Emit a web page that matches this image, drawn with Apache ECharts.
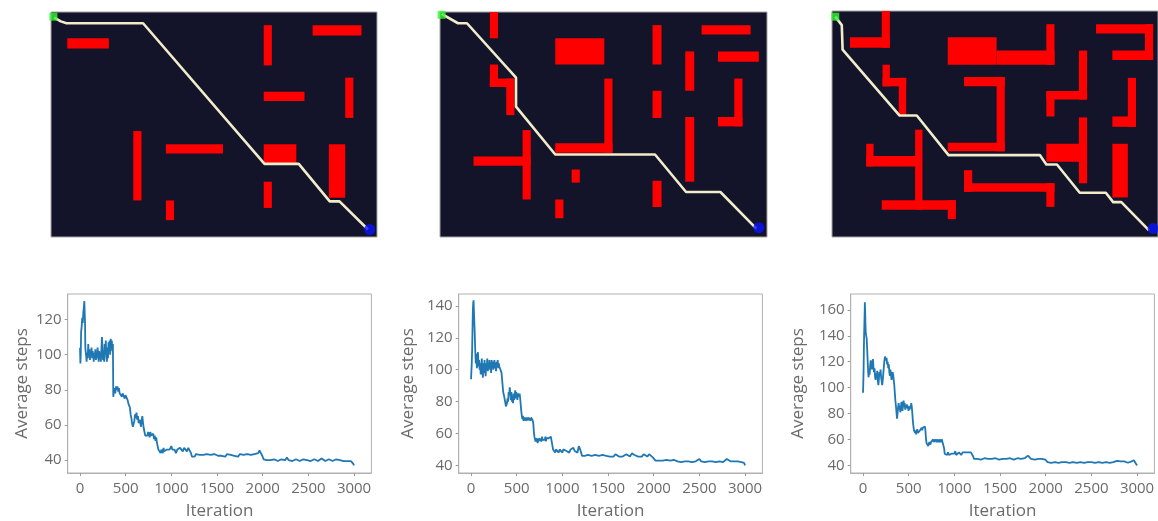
<!DOCTYPE html>
<html>
<head>
<meta charset="utf-8">
<script src="https://cdn.jsdelivr.net/npm/echarts@6/dist/echarts.min.js"></script>
<style>
html,body{margin:0;padding:0;background:#fff;}
#c{width:1158px;height:521px;}
</style>
</head>
<body>
<div id="c"></div>
<script>
// ---------- maze maps (grid units: 40 columns x 24 rows, y downward) ----------
const walls1 = [
  [2.0,2.8,7.1,3.9],[26.1,1.4,27.1,5.7],[32.1,1.4,38.1,2.5],[26.1,8.5,31.1,9.5],
  [36.1,7.0,37.1,11.3],[10.1,12.7,11.1,20.1],[14.1,14.1,21.1,15.1],[26.1,14.1,30.1,16.2],
  [34.1,14.1,36.1,19.8],[14.1,20.1,15.1,22.2],[26.1,18.1,27.1,20.9]
];
const path1 = [[0.4,0.6],[1.2,1.0],[1.9,1.2],[11.3,1.2],[26.2,16.2],[30.4,16.2],[34.2,20.2],[35.4,20.2],[38.9,23.2]];

const walls2 = [
  [6.1,0,7.1,2.8],[14.1,2.8,20.1,5.6],[26.0,1.4,27.1,5.6],[32.0,1.4,38.0,2.4],
  [30.0,4.2,31.1,8.4],[34.0,4.2,39.0,5.3],[36.0,7.1,37.0,12.2],[34.0,11.2,37.0,12.2],
  [6.1,5.6,7.1,8.0],[6.1,7.1,9.0,8.0],[8.1,7.1,9.1,11.0],[26.0,8.4,27.1,11.3],
  [20.1,7.1,21.1,15.0],[14.1,14.0,21.1,15.0],[10.1,12.6,11.1,20.0],[4.1,15.4,11.1,16.4],
  [16.1,16.8,17.1,18.2],[30.0,11.2,31.1,18.1],[26.0,18.0,27.1,20.8],[14.1,20.0,15.1,22.0]
];
const path2 = [[0.2,0.2],[2.2,1.2],[3.3,1.2],[9.3,7.0],[9.3,10.1],[14.1,15.2],[26.3,15.2],[30.1,19.2],[34.3,19.2],[38.7,23.1]];

const walls3 = [
  [6.1,0,7.1,3.9],[2.2,2.8,7.1,3.9],
  [14.2,2.8,20.2,5.7],[20.2,4.2,27.3,5.7],[26.3,1.4,27.3,5.7],
  [32.4,1.4,39.4,2.4],[38.4,1.4,39.4,5.2],[34.4,4.2,39.4,5.2],
  [6.2,5.7,7.1,8.0],[6.2,7.1,9.1,8.0],[8.2,7.1,9.1,11.0],
  [16.2,7.0,21.2,8.0],[20.2,7.0,21.2,14.9],[14.2,14.0,21.2,14.9],
  [30.3,4.2,31.3,9.4],[26.3,8.5,31.3,9.4],[26.3,8.5,27.3,11.2],
  [36.3,7.1,37.3,12.3],[34.4,11.2,37.3,12.3],
  [30.3,11.3,31.3,18.3],[26.3,14.1,31.3,16.0],
  [34.4,14.1,36.3,19.8],
  [4.2,14.1,5.1,16.5],[4.2,15.4,11.0,16.5],[10.2,12.6,11.1,21.1],[6.1,20.1,15.2,21.1],[14.2,20.1,15.2,22.1],
  [16.2,16.9,17.2,19.2],[16.2,18.3,27.3,19.2],[26.3,18.3,27.3,20.8]
];
const path3 = [[0.4,0.6],[1.2,1.5],[1.3,4.1],[8.3,11.1],[10.4,11.1],[14.3,15.3],[25.5,15.3],[26.3,16.3],[27.6,16.3],[30.4,19.3],[33.6,19.3],[34.5,20.3],[35.5,20.3],[38.9,23.3]];

const starts = [[0.3,0.5],[0.2,0.3],[0.4,0.6]];
const goals = [[39.1,23.2],[39.0,23.0],[39.4,23.1]];

// ---------- learning curves: [iteration, average steps] ----------
const run1 = [
[0,104],[4,95],[8,100],[12,113],[18,116],[24,121],[30,118],[36,124],[42,127],[47,130.5],[51,124],[55,118],[58,104],[63,101],[68,99],[72,96],[78,101],[84,98],[90,106],[96,99],[102,103],[108,97],[114,102],[120,100],[126,104],[132,98],[138,102],[144,100],[150,96],[156,101],[162,99],[168,103],[174,97],[180,101],[186,98],[192,104],[198,100],[204,96],[210,102],[216,98],[222,101],[228,96],[234,103],[240,110],[246,104],[252,97],[258,102],[264,96],[270,106],[276,100],[282,108],[288,99],[294,96],[300,104],[306,98],[312,107],[318,103],[324,108],[330,100],[336,109],[342,104],[348,108],[354,102],[360,106],[364,76],[370,79],[378,81],[386,78],[394,82],[402,80],[410,82],[418,79],[426,81],[434,78],[442,77],[450,79],[458,76],[466,78],[474,77],[482,79],[490,75],[498,77],[506,76],[514,78],[522,74],[530,72],[538,73],[546,70],[554,66],[562,64],[570,61],[578,59],[586,58],[594,62],[602,66],[610,64],[618,67],[626,63],[634,65],[642,61],[650,60],[658,63],[666,59],[674,62],[682,65],[690,61],[698,58],[706,56],[714,54],[722,53],[730,55],[738,54],[746,56],[754,55],[762,53],[770,56],[778,54],[786,55],[794,53],[802,55],[810,52],[818,54],[826,51],[834,53],[842,50],[850,48],[858,46],[866,45],[874,46],[882,44],[890,46],[898,45],[906,44],[914,47],[922,45],[930,46],[940,44],[950,46],[960,45],[970,47],[980,46],[990,45],[1000,48],[1010,46],[1020,45],[1035,46],[1050,44],[1065,46],[1080,45],[1095,47],[1110,46],[1125,45],[1140,47],[1155,46],[1170,45],[1185,47],[1200,46],[1215,44],[1225,42],[1240,43],[1255,42],[1270,43.5],[1290,42.5],[1310,43],[1330,42],[1350,43],[1370,42.5],[1390,43.5],[1410,42.5],[1430,43],[1450,42],[1470,43.5],[1490,43],[1510,42.5],[1530,43.5],[1550,42.5],[1570,43],[1590,42],[1610,43.5],[1630,42.5],[1650,43],[1670,44],[1690,42.5],[1710,43],[1730,42],[1750,43.5],[1770,42.5],[1790,43],[1810,42.5],[1830,43.5],[1850,42.5],[1870,43],[1890,42.5],[1910,43.5],[1930,43],[1950,44],[1965,45.5],[1980,44],[1995,42.5],[2010,40.5],[2025,39.5],[2045,40],[2065,39.5],[2085,40],[2105,39.5],[2125,40.5],[2145,40],[2165,39.5],[2185,40],[2205,40.5],[2225,39.5],[2245,40],[2265,41.5],[2285,40],[2305,40.5],[2325,39.5],[2345,40],[2365,40.5],[2385,40],[2405,39.5],[2425,40],[2445,40.5],[2465,39.5],[2485,40],[2505,40.5],[2525,39.5],[2545,40],[2565,40.5],[2585,40],[2605,39.5],[2625,40],[2645,41],[2665,40],[2685,39.5],[2705,40],[2725,40.5],[2745,40],[2765,39.5],[2785,40],[2805,40.5],[2825,39.5],[2845,40],[2865,40.5],[2885,39.5],[2905,40],[2925,39.5],[2945,40],[2965,39.5],[2980,39],[2990,38],[3000,37]
];
const run2 = [
[0,94],[4,93.5],[8,104],[12,112],[16,125],[20,137],[24,142],[28,143.5],[32,136],[36,130],[40,124],[46,112],[52,104],[58,110],[64,101],[70,108],[76,111],[82,102],[88,106],[94,100],[100,104],[106,97],[112,103],[118,107],[124,99],[130,95],[136,104],[142,98],[148,106],[154,100],[160,96],[166,104],[172,101],[178,107],[184,99],[190,104],[196,100],[202,106],[208,101],[214,104],[220,98],[226,106],[232,102],[238,105],[244,100],[250,103],[256,106],[262,101],[268,104],[274,99],[280,105],[286,102],[292,106],[298,101],[304,104],[310,102],[316,103],[322,101],[328,102],[334,98],[340,94],[346,90],[352,86],[358,87],[364,83],[370,81],[376,79],[382,77],[388,76],[394,79],[400,82],[406,80],[412,86],[418,84],[424,89],[430,85],[436,81],[442,86],[448,80],[454,83],[460,79],[466,85],[472,81],[478,84],[484,87],[490,82],[496,86],[502,84],[508,81],[514,85],[520,86],[526,83],[532,85],[538,82],[544,78],[550,74],[556,71],[562,69],[568,71],[574,68],[580,69],[586,67],[592,70],[598,68],[604,67],[610,69],[616,70],[622,68],[628,70],[634,69],[640,71],[646,70],[652,68],[658,70],[664,69],[670,71],[676,68],[682,66],[688,61],[694,58],[700,57],[706,55],[712,57],[718,56],[724,58],[730,54],[736,57],[742,55],[748,57],[754,56],[760,58],[766,57],[772,55],[778,58],[784,56],[790,57],[796,55],[802,57],[808,56],[814,58],[820,55],[826,57],[832,56],[838,58],[844,56],[850,57],[856,58],[862,56],[868,57],[874,58],[880,56],[886,55],[892,52],[898,50],[906,49],[914,51],[922,48],[930,50],[940,49],[950,51],[960,48],[970,50],[980,49],[990,51],[1000,48],[1010,50],[1020,49],[1030,51],[1045,49],[1060,50],[1075,48],[1090,50],[1105,49],[1120,51],[1135,49],[1150,50],[1165,48],[1180,52],[1195,50],[1205,48],[1215,46],[1230,47],[1245,46],[1260,45],[1280,46.5],[1300,45.5],[1320,46],[1340,45],[1360,46.5],[1380,45.5],[1400,46],[1420,45],[1440,46.5],[1460,45.5],[1480,46],[1500,47],[1520,45.5],[1540,46.5],[1560,45.5],[1580,47],[1600,46],[1620,45.5],[1640,46.5],[1660,45.5],[1680,46],[1700,47],[1720,46],[1740,45.5],[1760,47.5],[1775,48],[1790,46.5],[1810,47],[1830,45.5],[1850,46.5],[1870,45.5],[1890,47],[1910,46.5],[1930,45.5],[1950,47],[1970,46],[1990,45],[2005,44],[2020,43],[2040,42.5],[2060,43],[2080,42],[2100,43],[2120,42.5],[2140,43.5],[2160,42.5],[2180,43],[2200,42],[2220,43.5],[2240,43],[2260,42.5],[2280,43],[2300,42],[2320,43],[2340,42.5],[2360,43.5],[2380,42.5],[2400,43],[2420,42],[2440,43],[2460,42.5],[2480,43],[2500,44],[2520,42.5],[2540,43],[2560,42],[2580,43],[2600,42.5],[2620,43.5],[2640,42.5],[2660,43],[2680,42],[2700,43],[2720,42.5],[2740,43.5],[2760,42],[2780,43],[2800,44],[2820,43],[2840,42.5],[2860,43.5],[2880,42.5],[2900,43],[2920,42.5],[2940,43],[2960,42],[2975,43],[2990,41.5],[3000,40]
];
const run3 = [
[0,96],[3,104],[6,113],[9,128],[12,141],[15,150],[18,158],[20,166],[23,160],[26,150],[30,142],[35,140],[40,138],[45,130],[50,122],[55,114],[60,108],[66,112],[72,110],[78,117],[84,121],[90,120],[96,114],[102,118],[108,122],[114,116],[120,112],[126,115],[132,108],[138,106],[144,111],[150,109],[156,113],[162,105],[168,102],[174,107],[180,112],[186,110],[192,114],[198,108],[204,105],[210,102],[216,106],[222,111],[228,116],[234,121],[240,124],[246,125.5],[252,121],[258,123],[264,118],[270,120],[276,115],[282,118],[288,112],[294,109],[300,114],[306,110],[312,106],[318,108],[324,112],[330,110],[336,106],[342,102],[348,96],[354,90],[360,86],[366,81],[372,76],[378,80],[384,85],[390,88],[396,83],[402,86],[408,81],[414,84],[420,89],[426,85],[432,82],[438,87],[444,90],[450,85],[456,88],[462,83],[468,86],[474,84],[480,87],[486,84],[492,86],[498,82],[504,85],[510,83],[516,86],[522,84],[528,88],[534,85],[540,80],[546,74],[552,70],[558,67],[564,68],[570,65],[576,67],[582,64],[588,66],[594,68],[600,65],[606,64],[612,66],[618,64],[624,67],[630,66],[636,68],[642,69],[648,67],[654,69],[660,68],[666,70],[672,69],[678,70],[684,66],[690,60],[696,57],[702,56],[708,57],[714,55],[720,56],[726,58],[732,57],[738,56],[744,58],[750,57],[756,59],[762,58],[768,60],[774,58],[780,59],[786,57],[792,60],[798,59],[804,58],[810,60],[816,59],[822,58],[828,60],[834,58],[840,59],[846,60],[852,58],[858,59],[864,60],[870,58],[876,59],[882,57],[888,53],[894,49],[900,48],[910,49],[920,48],[930,50],[940,48],[950,49],[960,47],[970,49],[980,48],[990,50],[1000,49],[1010,51],[1020,48],[1030,49],[1040,48],[1050,50],[1060,49],[1075,48],[1090,50],[1105,49],[1120,50],[1135,49],[1150,50],[1165,51],[1180,50],[1195,49],[1205,47],[1215,45],[1230,46],[1250,45],[1270,45.5],[1290,44.5],[1310,45],[1330,45.5],[1350,44.5],[1370,45],[1390,46],[1410,45],[1430,44.5],[1450,45.5],[1470,45],[1490,44.5],[1510,46],[1530,45],[1550,46.5],[1570,45],[1590,44.5],[1610,45.5],[1630,46],[1650,44.5],[1670,45],[1690,45.5],[1710,44.5],[1730,45],[1750,46],[1770,45.5],[1790,46.5],[1805,47.5],[1820,46],[1840,45],[1860,46],[1880,44.5],[1900,45.5],[1920,45],[1940,46],[1960,45],[1980,45.5],[1995,44.5],[2005,43],[2020,42.5],[2040,43],[2060,42],[2080,43],[2100,42.5],[2120,43],[2140,42],[2160,43],[2180,42.5],[2200,43.5],[2220,42.5],[2240,43],[2260,42],[2280,43],[2300,42.5],[2320,43],[2340,42],[2360,43.5],[2380,42.5],[2400,43],[2420,42],[2440,43],[2460,42.5],[2480,43],[2500,42.5],[2520,43],[2540,42],[2560,43.5],[2580,42.5],[2600,43],[2620,42],[2640,43.5],[2660,42.5],[2680,43],[2700,42],[2720,43],[2740,42.5],[2760,43],[2780,43.5],[2800,42.5],[2820,43],[2840,42],[2860,43],[2880,42.5],[2900,42],[2920,42.5],[2940,43],[2955,44.5],[2965,44],[2975,42.5],[2990,41],[3000,40]
];

const xTitle = 'Iteration';
const yTitle = 'Average steps';

// ---------- layout ----------
const mapBoxes = [
  {left:51, top:12, width:326, height:225},
  {left:440, top:12, width:327, height:225},
  {left:832, top:11, width:326, height:226}
];
const plotBoxes = [
  {left:67.7, top:294, width:303.7, height:179.3, ymin:32.7, ymax:134.5, split:5, gap:37},
  {left:458.7, top:294, width:303.7, height:179.3, ymin:35.2, ymax:147.5, split:5, gap:42},
  {left:850.7, top:294, width:303.7, height:179.3, ymin:34.1, ymax:172.3, split:6, gap:44}
];

const walls = [walls1, walls2, walls3];
const paths = [path1, path2, path3];
const runs = [run1, run2, run3];

const grid = [], xAxis = [], yAxis = [], series = [];
const txt = '#6b6b6b';
const fontFamily = 'Open Sans, DejaVu Sans, sans-serif';

mapBoxes.forEach((b, i) => {
  grid.push(Object.assign({show:true, backgroundColor:'#13132a', borderColor:'#a5a5a5', borderWidth:1, containLabel:false}, b));
  xAxis.push({type:'value', gridIndex:i, min:0, max:40, show:false});
  yAxis.push({type:'value', gridIndex:i, min:0, max:24, inverse:true, show:false});
  series.push({
    type:'custom', xAxisIndex:i, yAxisIndex:i, data:walls[i], encode:{x:[0,2], y:[1,3]}, clip:true,
    renderItem:function(params, api){
      const a = api.coord([api.value(0), api.value(1)]);
      const c = api.coord([api.value(2), api.value(3)]);
      return {type:'rect', shape:{x:Math.min(a[0],c[0]), y:Math.min(a[1],c[1]), width:Math.abs(c[0]-a[0]), height:Math.abs(c[1]-a[1])}, style:{fill:'#ff0000'}};
    }
  });
  series.push({type:'line', xAxisIndex:i, yAxisIndex:i, data:paths[i], showSymbol:false, z:3,
    lineStyle:{color:'#f1ecc9', width:2.6, join:'round'}});
  series.push({type:'scatter', xAxisIndex:i, yAxisIndex:i, data:[starts[i]], symbol:'rect', symbolSize:8, z:4,
    itemStyle:{color:'#37f537'}});
  series.push({type:'scatter', xAxisIndex:i, yAxisIndex:i, data:[goals[i]], symbol:'circle', symbolSize:11, z:4,
    itemStyle:{color:'#0a14ff'}});
});

plotBoxes.forEach((b, k) => {
  const i = k + 3;
  grid.push({left:b.left, top:b.top, width:b.width, height:b.height, show:true, borderColor:'#b0b0b0', borderWidth:1});
  xAxis.push({
    type:'value', gridIndex:i, min:-135, max:3190, splitNumber:6,
    name:xTitle, nameLocation:'middle', nameGap:30,
    nameTextStyle:{color:txt, fontSize:17, fontFamily:fontFamily},
    axisLine:{show:true, onZero:false, lineStyle:{color:'#b0b0b0'}},
    axisTick:{show:true, length:3, lineStyle:{color:'#999'}},
    axisLabel:{color:txt, fontSize:15, fontFamily:fontFamily, margin:8, showMinLabel:false, showMaxLabel:false,
      formatter:v => (Math.abs(v % 500) < 1e-6 ? String(v) : '')},
    splitLine:{show:false}
  });
  yAxis.push({
    type:'value', gridIndex:i, min:b.ymin, max:b.ymax, splitNumber:b.split,
    name:yTitle, nameLocation:'middle', nameGap:b.gap, nameRotate:90,
    nameTextStyle:{color:txt, fontSize:17, fontFamily:fontFamily},
    axisLine:{show:true, onZero:false, lineStyle:{color:'#b0b0b0'}},
    axisTick:{show:true, length:3, lineStyle:{color:'#999'}},
    axisLabel:{color:txt, fontSize:15, fontFamily:fontFamily, margin:6, showMinLabel:false, showMaxLabel:false,
      formatter:v => (Math.abs(v % 20) < 1e-6 ? String(v) : '')},
    splitLine:{show:false}
  });
  series.push({type:'line', xAxisIndex:i, yAxisIndex:i, data:runs[k], showSymbol:false,
    lineStyle:{color:'#1f77b4', width:1.8}});
});

const chart = echarts.init(document.getElementById('c'), null, {renderer:'canvas'});
chart.setOption({animation:false, backgroundColor:'#ffffff', grid, xAxis, yAxis, series});
</script>
</body>
</html>
